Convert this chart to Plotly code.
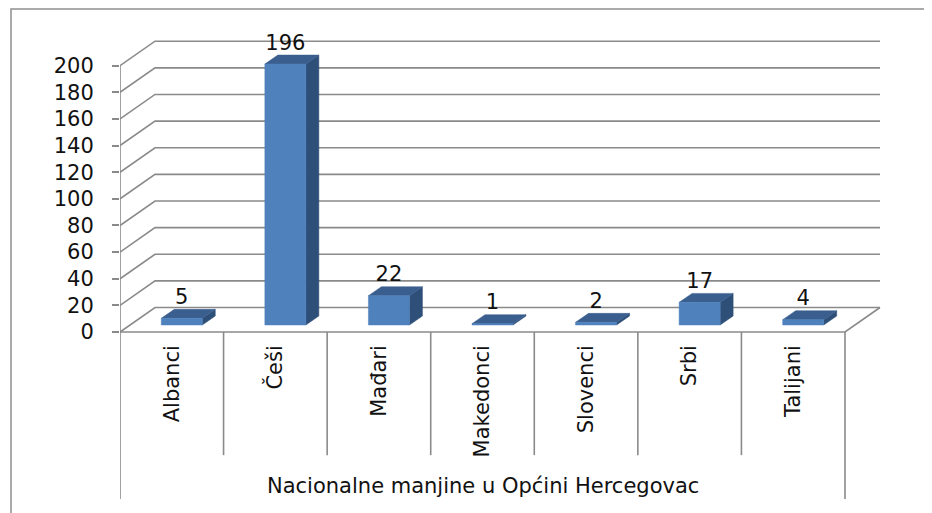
import plotly.graph_objects as go

# ---- data ----
categories = ["Albanci", "Češi", "Mađari", "Makedonci", "Slovenci", "Srbi", "Talijani"]
values = [5, 196, 22, 1, 2, 17, 4]
y_ticks = [0, 20, 40, 60, 80, 100, 120, 140, 160, 180, 200]
axis_title = "Nacionalne manjine u Općini Hercegovac"

# ---- geometry (page is offset by the 8px body margin) ----
OFF = 8
W, H = 932 - OFF, 513 - OFF
ML = 120 - OFF               # left margin in px (front y-axis)
PX_PER_CAT = 103.57
PX_PER_UNIT = 1.3315
Y0_PX = 332 - OFF            # px of value 0 on the front plane
x_range = [0, (W - ML) / PX_PER_CAT]
y_range = [(Y0_PX - H) / PX_PER_UNIT, Y0_PX / PX_PER_UNIT]

WALL_DX, WALL_DY = 0.338, 18.4     # depth of back wall
BF_DX, BF_DY = 0.0966, 5.26        # bar front plane
BB_DX, BB_DY = 0.222, 12.0         # bar back plane
BAR_HALF = 0.198
N = len(categories)

GRID = "#8a8a8a"
FRONT = "#4F81BD"
TOP = "#3A5F8E"
SIDE = "#2E4F78"
FONT = "DejaVu Sans"
FS = 21
TXT = "#111111"

fig = go.Figure()

# gridlines: left side wall diagonals + back wall horizontals
gx, gy = [], []
for v in y_ticks:
    gx += [0, WALL_DX, N + WALL_DX, None]
    gy += [v, v + WALL_DY, v + WALL_DY, None]
# floor right diagonal and front floor edge
gx += [0, N, N + WALL_DX, None]
gy += [0, 0, WALL_DY, None]
# vertical lines
gx += [0, 0, None, N, N, None]
gy += [y_ticks[-1], -125.5, None, 0, -125.5, None]
for i in range(1, N):
    gx += [i, i, None]
    gy += [0, -92.5, None]
fig.add_trace(go.Scatter(x=gx, y=gy, mode="lines", line=dict(color=GRID, width=1.6),
                         hoverinfo="skip", showlegend=False))

# 3D bars
sx, sy, tx, ty, fx, fy = [], [], [], [], [], []
for i, v in enumerate(values):
    L = i + 0.5 - BAR_HALF
    R = i + 0.5 + BAR_HALF
    sx += [R + BF_DX, R + BB_DX, R + BB_DX, R + BF_DX, R + BF_DX, None]
    sy += [BF_DY, BB_DY, v + BB_DY, v + BF_DY, BF_DY, None]
    tx += [L + BF_DX, R + BF_DX, R + BB_DX, L + BB_DX, L + BF_DX, None]
    ty += [v + BF_DY, v + BF_DY, v + BB_DY, v + BB_DY, v + BF_DY, None]
    fx += [L + BF_DX, R + BF_DX, R + BF_DX, L + BF_DX, L + BF_DX, None]
    fy += [BF_DY, BF_DY, v + BF_DY, v + BF_DY, BF_DY, None]
for xs, ys, col in [(sx, sy, SIDE), (tx, ty, TOP), (fx, fy, FRONT)]:
    fig.add_trace(go.Scatter(x=xs, y=ys, mode="lines", fill="toself", fillcolor=col,
                             line=dict(color=col, width=0.5), hoverinfo="skip",
                             showlegend=False))

# data labels
fig.add_trace(go.Scatter(
    x=[i + 0.5 + BF_DX for i in range(N)],
    y=[v + BB_DY for v in values],
    mode="text", text=[str(v) for v in values], textposition="top center",
    textfont=dict(family=FONT, size=FS, color=TXT),
    hoverinfo="skip", showlegend=False))

# axis title
fig.add_annotation(x=N / 2, y=(Y0_PX - (486 - OFF) + 0) / PX_PER_UNIT, xref="x", yref="y",
                   text=axis_title, showarrow=False,
                   font=dict(family=FONT, size=FS, color=TXT))

# outer frame
fig.add_shape(type="rect", xref="paper", yref="paper",
              x0=(11 - OFF - ML) / (W - ML), x1=1.2, y0=-0.2, y1=(H - 1) / H,
              line=dict(color="#8f8f8f", width=1.5))

fig.update_layout(
    width=W, height=H, template="none",
    margin=dict(l=ML, r=0, t=0, b=0),
    paper_bgcolor="white", plot_bgcolor="white",
    showlegend=False,
    xaxis=dict(range=x_range, anchor="free", position=(H - Y0_PX) / H,
               tickvals=[i + 0.5 for i in range(N)], ticktext=categories,
               tickangle=-90, ticks="", ticklabelstandoff=8,
               tickfont=dict(family=FONT, size=FS, color=TXT),
               showgrid=False, zeroline=False, showline=False, automargin=False,
               fixedrange=True),
    yaxis=dict(range=y_range, tickvals=y_ticks, ticks="outside", ticklen=7,
               tickcolor=GRID, tickwidth=1.6, ticklabelstandoff=14,
               tickfont=dict(family=FONT, size=FS, color=TXT),
               showgrid=False, zeroline=False, showline=False, automargin=False,
               fixedrange=True),
)

fig.write_html("out.html")
